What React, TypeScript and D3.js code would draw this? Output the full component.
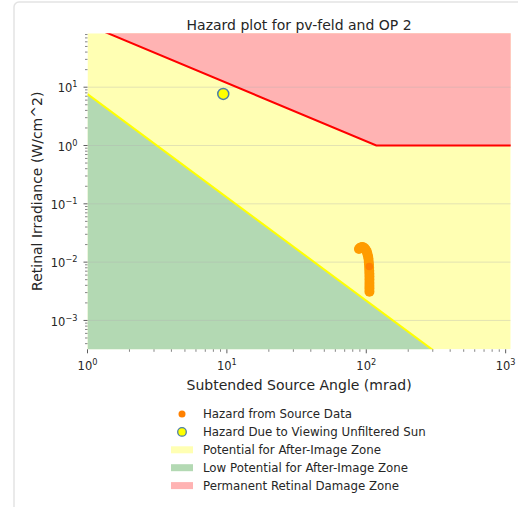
import React from "react";
import * as d3 from "d3";

// hazard data (mrad, W/cm^2)
const sourceAngle = [88.6, 90.0, 91.6, 93.5, 95.5, 97.5, 99.5, 101.0, 102.0, 103.0, 103.7, 104.2, 104.6, 104.9, 105.1, 105.3, 105.4, 105.4, 105.4, 105.4, 105.4, 105.4];
const sourceIrradiance = [0.0168, 0.0175, 0.0179, 0.0181, 0.0179, 0.0172, 0.0162, 0.0150, 0.0138, 0.0126, 0.0114, 0.0101, 0.0090, 0.0080, 0.0071, 0.0063, 0.0056, 0.0050, 0.0044, 0.0039, 0.0035, 0.0031];
const highlightPoint = [105.1, 0.0084];
const sunPoint = [9.42, 7.68];

// zone boundaries
const damageLimit = [[1, 118], [118, 1], [1100, 1]];
const afterImageLimit = [[1, 7.6], [1000, 3.7e-5]];

const xTicks = [1, 10, 100, 1000];
const xTickExp = ["0", "1", "2", "3"];
const yTicks = [10, 1, 0.1, 0.01, 0.001];
const yTickExp = ["1", "0", "\u22121", "\u22122", "\u22123"];

const legendItems = [
  { label: "Hazard from Source Data", kind: "dot" },
  { label: "Hazard Due to Viewing Unfiltered Sun", kind: "sun" },
  { label: "Potential for After-Image Zone", kind: "patch", color: "#ffffb3" },
  { label: "Low Potential for After-Image Zone", kind: "patch", color: "#b3d9b3" },
  { label: "Permanent Retinal Damage Zone", kind: "patch", color: "#ffb3b3" },
];

const W = 518;
const H = 507;
const left = 87.5;
const right = 510.7;
const top = 33.3;
const bottom = 349.3;
const font = "DejaVu Sans, sans-serif";
const textColor = "#262626";

export default function App() {
  const x = d3.scaleLog().domain([1, 1087]).range([left, right]);
  const y = d3.scaleLog().domain([3.2e-4, 84]).range([bottom, top]);

  const line = d3.line<number[]>().x((d) => x(d[0])).y((d) => y(d[1]));
  const greenArea = d3
    .area<number[]>()
    .x((d) => x(d[0]))
    .y0(bottom + 50)
    .y1((d) => y(d[1]));
  const redArea = d3
    .area<number[]>()
    .x((d) => x(d[0]))
    .y0(top - 50)
    .y1((d) => y(d[1]));

  const xMinor = x.ticks().filter((t) => !xTicks.includes(t) && t <= 1087);
  const yMinor = y.ticks().filter((t) => !yTicks.some((v) => Math.abs(v - t) < t * 1e-6));

  return (
    <svg width={W} height={H} style={{ position: "absolute", left: 0, top: 0, display: "block" }}>
      <rect x={0} y={0} width={W} height={H} fill="#fff" />
      <rect x={14} y={2} width={W + 20} height={H + 20} rx={5} fill="#fff" stroke="#e3e3e3" strokeWidth={1.5} />

      <defs>
        <clipPath id="plot">
          <rect x={left} y={top} width={right - left} height={bottom - top} />
        </clipPath>
      </defs>

      <g clipPath="url(#plot)">
        <rect x={left} y={top} width={right - left} height={bottom - top} fill="#ffffb3" />
        <path d={greenArea(afterImageLimit) || ""} fill="#b3d9b3" />
        <path d={redArea(damageLimit) || ""} fill="#ffb3b3" />
        {yTicks.map((t) => (
          <line key={t} x1={left} x2={right} y1={y(t)} y2={y(t)} stroke="#b0b0b0" strokeOpacity={0.45} strokeWidth={0.8} />
        ))}
        <path d={line(afterImageLimit) || ""} fill="none" stroke="#ffff00" strokeWidth={2} />
        <path d={line(damageLimit) || ""} fill="none" stroke="#ff0000" strokeWidth={2} />
        {sourceAngle.map((a, i) => (
          <circle key={i} cx={x(a)} cy={y(sourceIrradiance[i])} r={5} fill="#ff9c00" />
        ))}
        <circle cx={x(highlightPoint[0])} cy={y(highlightPoint[1])} r={3.8} fill="#ff8000" />
        <circle cx={x(sunPoint[0])} cy={y(sunPoint[1])} r={5.5} fill="#ffff00" stroke="#4c7fa8" strokeWidth={1.5} />
      </g>

      {/* x axis */}
      {xTicks.map((t, i) => (
        <g key={t} transform={`translate(${x(t)},${bottom})`}>
          <line y2={4} stroke="#333" strokeWidth={0.8} />
          <text y={21} textAnchor="middle" fontFamily={font} fontSize={11.5} fill={textColor}>
            10<tspan dy={-5} fontSize={8.2}>{xTickExp[i]}</tspan>
          </text>
        </g>
      ))}
      {xMinor.map((t) => (
        <line key={t} x1={x(t)} x2={x(t)} y1={bottom} y2={bottom + 2.5} stroke="#333" strokeWidth={0.6} />
      ))}

      {/* y axis */}
      {yTicks.map((t, i) => (
        <g key={t} transform={`translate(${left},${y(t)})`}>
          <line x2={-4} stroke="#333" strokeWidth={0.8} />
          <text x={-10} dy="0.45em" textAnchor="end" fontFamily={font} fontSize={11.5} fill={textColor}>
            10<tspan dy={-5} fontSize={8.2}>{yTickExp[i]}</tspan>
          </text>
        </g>
      ))}
      {yMinor.map((t) => (
        <line key={t} x1={left} x2={left - 2.5} y1={y(t)} y2={y(t)} stroke="#333" strokeWidth={0.6} />
      ))}

      <text x={(left + right) / 2} y={30} textAnchor="middle" fontFamily={font} fontSize={14} fill={textColor}>
        Hazard plot for pv-feld and OP 2
      </text>
      <text x={(left + right) / 2} y={390} textAnchor="middle" fontFamily={font} fontSize={14} fill={textColor}>
        Subtended Source Angle (mrad)
      </text>
      <text
        transform={`translate(42,${(top + bottom) / 2}) rotate(-90)`}
        textAnchor="middle"
        fontFamily={font}
        fontSize={14}
        fill={textColor}
      >
        Retinal Irradiance (W/cm^2)
      </text>

      {/* legend */}
      {legendItems.map((item, i) => {
        const cy = 414 + i * 17.9;
        return (
          <g key={item.label}>
            {item.kind === "dot" && <circle cx={182} cy={cy} r={3.5} fill="#ff8000" />}
            {item.kind === "sun" && <circle cx={182} cy={cy} r={4.3} fill="#ffff00" stroke="#4c7fa8" strokeWidth={1.3} />}
            {item.kind === "patch" && <rect x={171} y={cy - 3.5} width={22} height={7} fill={item.color} />}
            <text x={203} y={cy} dy="0.35em" fontFamily={font} fontSize={11.8} fill={textColor}>
              {item.label}
            </text>
          </g>
        );
      })}
    </svg>
  );
}
